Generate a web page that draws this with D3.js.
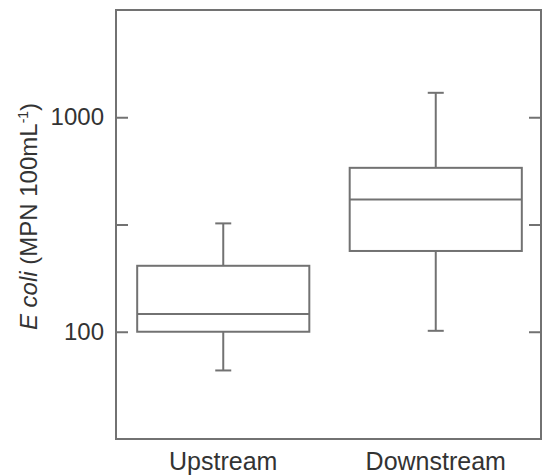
<!DOCTYPE html>
<html>
<head>
<meta charset="utf-8">
<script src="https://cdn.jsdelivr.net/npm/d3@7"></script>
<style>
  body { margin: 0; background: #fff; }
  text { font-family: "Liberation Sans", Arial, sans-serif; fill: #333; }
</style>
</head>
<body>
<div id="chart"></div>
<script>
// data
var categories = ["Upstream", "Downstream"];
var whiskerLow = [66, 101];
var q1 = [100, 238];
var median = [121, 414];
var q3 = [203, 581];
var whiskerHigh = [320, 1300];

var yDomain = [31.62, 3162.3];
var yTickValues = [100, 316.23, 1000];
var yTickLabels = ["100", "", "1000"];

var W = 547, H = 475;
var margin = { top: 10, right: 6, bottom: 36, left: 116 };
var width = W - margin.left - margin.right;
var height = H - margin.top - margin.bottom;

var lineColor = "#727272";

var svg = d3.select("#chart")
    .append("svg")
    .attr("width", W)
    .attr("height", H)
    .append("g")
    .attr("transform", "translate(" + margin.left + "," + margin.top + ")");

// scales
var x = d3.scaleBand().domain(categories).range([0, width]).padding(0);
var y = d3.scaleLog().domain(yDomain).range([height, 0]);

// left axis, ticks pointing inward
var yAxis = d3.axisLeft(y)
    .tickValues(yTickValues)
    .tickFormat(function (d, i) { return yTickLabels[i]; })
    .tickSizeInner(-12)
    .tickSizeOuter(0)
    .tickPadding(12);

var gy = svg.append("g").call(yAxis);
gy.select(".domain").remove();
gy.selectAll("line").attr("stroke", lineColor).attr("stroke-width", 2);
gy.selectAll("text")
    .style("font-family", "Liberation Sans, Arial, sans-serif")
    .style("font-size", "24px")
    .attr("fill", "#333");

// right axis, ticks only
var yAxisRight = d3.axisRight(y)
    .tickValues(yTickValues)
    .tickFormat("")
    .tickSizeInner(-12)
    .tickSizeOuter(0);

var gyr = svg.append("g")
    .attr("transform", "translate(" + width + ",0)")
    .call(yAxisRight);
gyr.select(".domain").remove();
gyr.selectAll("line").attr("stroke", lineColor).attr("stroke-width", 2);

// frame
svg.append("rect")
    .attr("x", 0)
    .attr("y", 0)
    .attr("width", width)
    .attr("height", height)
    .attr("fill", "none")
    .attr("stroke", lineColor)
    .attr("stroke-width", 2);

// x labels
svg.selectAll(".xlabel")
    .data(categories)
    .enter().append("text")
    .attr("class", "xlabel")
    .attr("x", function (d) { return x(d) + x.bandwidth() / 2 + 1; })
    .attr("y", height + 31)
    .attr("text-anchor", "middle")
    .style("font-size", "25px")
    .text(function (d) { return d; });

// y title
var title = svg.append("text")
    .attr("transform", "translate(" + (-79) + "," + (height / 2 - 8) + ") rotate(-90)")
    .attr("text-anchor", "middle")
    .style("font-size", "24px");
title.append("tspan").style("font-style", "italic").text("E coli");
title.append("tspan").text(" (MPN 100mL");
title.append("tspan").attr("dy", -9).style("font-size", "14px").text("-1");
title.append("tspan").attr("dy", 9).text(")");

// boxes
var boxW = x.bandwidth() * 0.81;
var capW = 16;

var box = svg.selectAll(".box")
    .data(categories)
    .enter().append("g")
    .attr("class", "box")
    .attr("transform", function (d) { return "translate(" + (x(d) + x.bandwidth() / 2 + 1) + ",0)"; });

// whiskers
box.append("line")
    .attr("x1", 0).attr("x2", 0)
    .attr("y1", function (d, i) { return y(whiskerHigh[i]); })
    .attr("y2", function (d, i) { return y(q3[i]); })
    .attr("stroke", lineColor).attr("stroke-width", 2);
box.append("line")
    .attr("x1", 0).attr("x2", 0)
    .attr("y1", function (d, i) { return y(q1[i]); })
    .attr("y2", function (d, i) { return y(whiskerLow[i]); })
    .attr("stroke", lineColor).attr("stroke-width", 2);

// caps
box.append("line")
    .attr("x1", -capW / 2).attr("x2", capW / 2)
    .attr("y1", function (d, i) { return y(whiskerHigh[i]); })
    .attr("y2", function (d, i) { return y(whiskerHigh[i]); })
    .attr("stroke", lineColor).attr("stroke-width", 2);
box.append("line")
    .attr("x1", -capW / 2).attr("x2", capW / 2)
    .attr("y1", function (d, i) { return y(whiskerLow[i]); })
    .attr("y2", function (d, i) { return y(whiskerLow[i]); })
    .attr("stroke", lineColor).attr("stroke-width", 2);

// box
box.append("rect")
    .attr("x", -boxW / 2)
    .attr("width", boxW)
    .attr("y", function (d, i) { return y(q3[i]); })
    .attr("height", function (d, i) { return y(q1[i]) - y(q3[i]); })
    .attr("fill", "none")
    .attr("stroke", lineColor).attr("stroke-width", 2);

// median
box.append("line")
    .attr("x1", -boxW / 2).attr("x2", boxW / 2)
    .attr("y1", function (d, i) { return y(median[i]); })
    .attr("y2", function (d, i) { return y(median[i]); })
    .attr("stroke", lineColor).attr("stroke-width", 2);
</script>
</body>
</html>
